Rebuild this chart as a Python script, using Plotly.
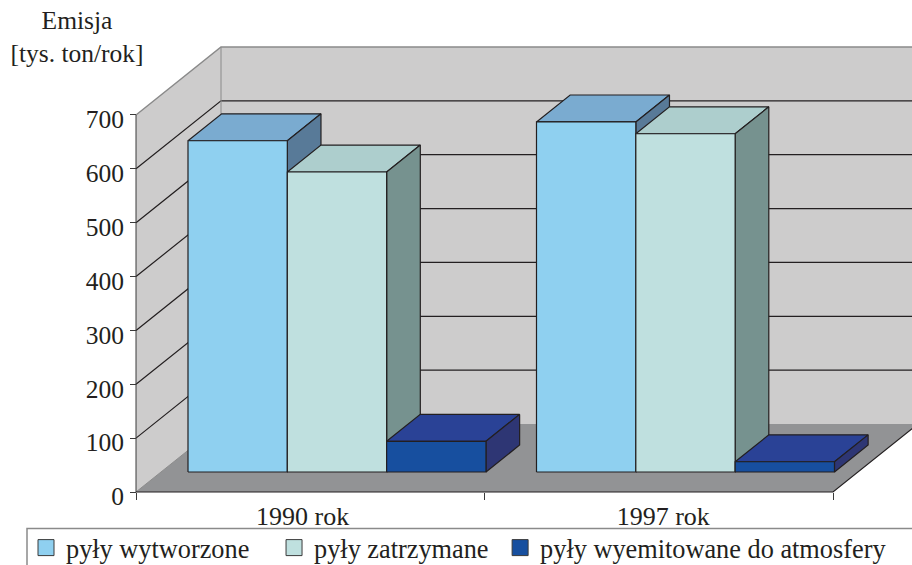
import plotly.graph_objects as go

# ---- data ----
categories = ["1990 rok", "1997 rok"]
wytworzone = [615, 650]
zatrzymane = [557, 628]
wyemitowane = [57, 19]
y_ticks = [0, 100, 200, 300, 400, 500, 600, 700]
series_names = ["pyły wytworzone\u00a0\u00a0\u00a0", "pyły zatrzymane\u00a0", "pyły wyemitowane do atmosfery"]
series_values = [wytworzone, zatrzymane, wyemitowane]

# ---- styling / geometry ----
W, H = 912, 565
X0_PX, Y0_PX = 136, 492       # origin of the axes in the window
CAT_PX = 348.5                # width of one category
UNIT_PX = 0.5386              # pixels per unit of value
DEPTH_X = 85 / CAT_PX         # floor depth, expressed in x units
DEPTH_Y = 68 / UNIT_PX        # floor depth, expressed in value units
BAR_D0, BAR_D1 = 0.294, 0.69  # front/back of the bars within the depth
GAP = 0.0775
BAR_W = 0.285
LABEL_DROP = 8                # tick labels sit slightly below their ticks (value units)
INK = "#231f20"
FONT = "Liberation Serif"
front = ["#8fd0f0", "#bfe0df", "#174f9f"]
top = ["#7aabd0", "#adcecd", "#2a4296"]
side = ["#587a98", "#76928f", "#2e3674"]


def p(x, v, d):
    """Oblique projection: category position, value, depth -> axis coordinates."""
    return x + d * DEPTH_X, v + d * DEPTH_Y


def poly(points, fill=None, color=INK, width=1.2):
    xs, ys = zip(*[p(*pt) for pt in points])
    return go.Scatter(
        x=list(xs), y=list(ys), mode="lines",
        fill="toself" if fill else None, fillcolor=fill,
        line=dict(color=color, width=width), showlegend=False, hoverinfo="skip",
    )


fig = go.Figure()
VMAX = y_ticks[-1]
XMAX = len(categories)

# walls and floor
fig.add_trace(poly([(0, 0, 0), (0, VMAX, 0), (0, VMAX, 1), (0, 0, 1), (0, 0, 0)], "#cdcccc", "#cdcccc", 0))
fig.add_trace(poly([(0, 0, 1), (0, VMAX, 1), (XMAX, VMAX, 1), (XMAX, 0, 1), (0, 0, 1)], "#cdcccc", "#cdcccc", 0))
fig.add_trace(poly([(0, 0, 0), (XMAX, 0, 0), (XMAX, 0, 1), (0, 0, 1), (0, 0, 0)], "#929395", "#929395", 0))

# grid lines
for v in y_ticks[1:-1]:
    fig.add_trace(poly([(0, v, 0), (0, v, 1), (XMAX, v, 1)], width=1.2))

# outlines
fig.add_trace(poly([(0, 0, 0), (0, 0, 1)], color="#8a8a8a", width=1))
fig.add_trace(poly([(0, VMAX, 0), (0, VMAX, 1), (XMAX, VMAX, 1)], color="#8a8a8a", width=1.5))
fig.add_trace(poly([(0, 0, 1), (0, VMAX, 1)], color="#8a8a8a", width=1))
fig.add_trace(poly([(0, 0, 0), (0, VMAX, 0)], color="#3a3a3a", width=1))
fig.add_trace(poly([(0, 0, 0), (XMAX, 0, 0), (XMAX, 0, 1)], width=1.2))

# bars
for c in range(len(categories)):
    for s, vals in enumerate(series_values):
        a = c + GAP + s * BAR_W
        b = a + BAR_W
        v = vals[c]
        fig.add_trace(poly([(a, v, BAR_D0), (b, v, BAR_D0), (b, v, BAR_D1), (a, v, BAR_D1), (a, v, BAR_D0)], top[s]))
        fig.add_trace(poly([(b, 0, BAR_D0), (b, v, BAR_D0), (b, v, BAR_D1), (b, 0, BAR_D1), (b, 0, BAR_D0)], side[s]))
        fig.add_trace(poly([(a, 0, BAR_D0), (b, 0, BAR_D0), (b, v, BAR_D0), (a, v, BAR_D0), (a, 0, BAR_D0)], front[s]))

# legend entries
for s, name in enumerate(series_names):
    fig.add_trace(go.Scatter(
        x=[None], y=[None], mode="markers", name=name,
        marker=dict(symbol="square", size=18, color=front[s], line=dict(color="#3a3a3a", width=1)),
    ))

# legend frame (runs past the window on the right and at the bottom)
fig.add_shape(type="path", xref="paper", yref="paper",
              path=f"M {27/W} -0.02 L {27/W} {1-528.5/H} L 1.02 {1-528.5/H}",
              line=dict(color="#8a8a8a", width=1.5))

fig.update_layout(
    width=W, height=H, autosize=False,
    margin=dict(l=0, r=0, t=0, b=0, autoexpand=False),
    paper_bgcolor="white", plot_bgcolor="white",
    hovermode=False,
    font=dict(family=FONT, size=25.5, color=INK),
    title=dict(text="Emisja<br>[tys. ton/rok]", x=77 / W, xanchor="center", xref="paper",
               y=1 - 29 / H, yanchor="top", yref="paper", font=dict(family=FONT, size=25.5, color=INK),
               pad=dict(l=0, r=0, t=0, b=0)),
    xaxis=dict(
        range=[-X0_PX / CAT_PX, (W - X0_PX) / CAT_PX], domain=[0, 1],
        anchor="free", position=(H - Y0_PX) / H,
        tickvals=[0.478, 1.513], ticktext=categories, ticks="", ticklabelstandoff=6,
        showgrid=False, zeroline=False, showline=False,
        minor=dict(tickvals=[0, 1, 2], ticks="outside", ticklen=7, tickcolor="#3a3a3a", tickwidth=1, showgrid=False),
        tickfont=dict(family=FONT, size=26, color=INK),
    ),
    yaxis=dict(
        range=[-(H - Y0_PX) / UNIT_PX, Y0_PX / UNIT_PX], domain=[0, 1],
        anchor="free", position=X0_PX / W,
        tickvals=[v - LABEL_DROP for v in y_ticks], ticktext=[str(v) for v in y_ticks],
        ticks="", ticklabelstandoff=12,
        showgrid=False, zeroline=False, showline=False,
        minor=dict(tickvals=y_ticks, ticks="outside", ticklen=6, tickcolor="#3a3a3a", tickwidth=1, showgrid=False),
        tickfont=dict(family=FONT, size=25.5, color=INK),
    ),
    legend=dict(
        orientation="h", x=26 / W, y=1 - 524 / H, xanchor="left", yanchor="top",
        bgcolor="rgba(0,0,0,0)", borderwidth=0, itemclick=False, itemdoubleclick=False,
        font=dict(family=FONT, size=26.3, color=INK), tracegroupgap=0,
    ),
)

fig.write_html("out.html", config={"displayModeBar": False},
               post_script="document.documentElement.style.margin='0';document.body.style.margin='0';")
